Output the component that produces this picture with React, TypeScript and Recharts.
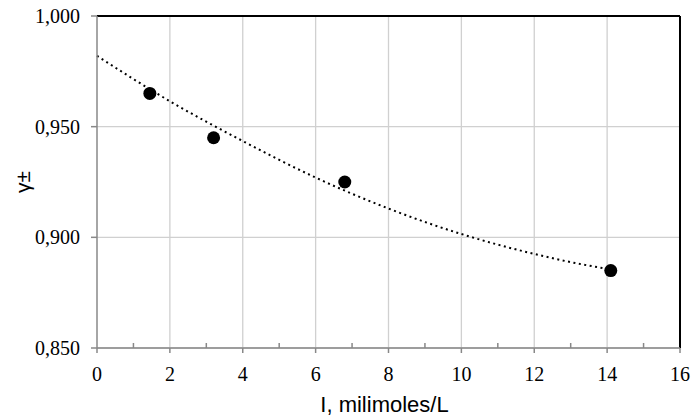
import {
  ComposedChart,
  Line,
  Scatter,
  XAxis,
  YAxis,
  CartesianGrid,
  ReferenceLine,
} from "recharts";

// measured points (I in mmol/L, mean activity coefficient)
const ionicStrength = [1.45, 3.2, 6.8, 14.1];
const gammaValues = [0.965, 0.945, 0.925, 0.885];

// dotted trend line
const trendX = [0, 2, 4, 6, 8, 10, 11, 12, 13, 14.1];
const trendY = [0.982, 0.9615, 0.9435, 0.927, 0.913, 0.9015, 0.8967, 0.8925, 0.8888, 0.8855];

const xTicks = [0, 1, 2, 3, 4, 5, 6, 7, 8, 9, 10, 11, 12, 13, 14, 15, 16];
const xGridLines = [2, 4, 6, 8, 10, 12, 14];
const yTicks = [0.85, 0.9, 0.95, 1.0];

const points = ionicStrength.map((x, i) => ({ x, y: gammaValues[i] }));
const trend = trendX.map((x, i) => ({ x, y: trendY[i] }));

const AXIS = "#888888";
const GRID = "#d0d0d0";
const SERIF = "'Liberation Serif', 'Times New Roman', serif";
const SANS = "'Liberation Sans', Arial, sans-serif";

function XTick(props: any) {
  const { x, y, payload } = props;
  const v = payload.value as number;
  const major = v % 2 === 0;
  return (
    <g>
      {major ? (
        <line x1={x} x2={x} y1={y} y2={y + 5} stroke={AXIS} strokeWidth={1.5} />
      ) : (
        <line x1={x} x2={x} y1={y - 5} y2={y} stroke={AXIS} strokeWidth={1.5} />
      )}
      {major && (
        <text x={x} y={y + 33} textAnchor="middle" fontFamily={SERIF} fontSize={20} fill="#000">
          {v}
        </text>
      )}
    </g>
  );
}

export default function App() {
  return (
    <div style={{ position: "absolute", left: 0, top: 0, background: "#fff" }}>
      <ComposedChart
        width={692}
        height={417}
        margin={{ top: 16, right: 12, bottom: 0, left: 0 }}
      >
        <CartesianGrid vertical={false} horizontal stroke={GRID} strokeWidth={1.3} />
        {xGridLines.map((g) => (
          <ReferenceLine key={g} x={g} stroke={GRID} strokeWidth={1.3} />
        ))}
        <XAxis
          type="number"
          dataKey="x"
          domain={[0, 16]}
          ticks={xTicks}
          interval={0}
          height={69}
          tickSize={0}
          tickMargin={0}
          tickLine={false}
          tick={<XTick />}
          axisLine={{ stroke: AXIS, strokeWidth: 1.5 }}
          label={{
            content: (p: any) => {
              const vb = p.viewBox;
              return (
                <text
                  x={vb.x + vb.width / 2 - 4}
                  y={412}
                  textAnchor="middle"
                  fontFamily={SANS}
                  fontSize={22}
                  fill="#000"
                >
                  I, milimoles/L
                </text>
              );
            },
          }}
        />
        <YAxis
          type="number"
          dataKey="y"
          domain={[0.85, 1.0]}
          ticks={yTicks}
          interval={0}
          width={97}
          tickSize={6}
          tickMargin={11}
          tickFormatter={(v: number) => v.toFixed(3).replace(".", ",")}
          tick={{ fontFamily: SERIF, fontSize: 20, fill: "#000" }}
          tickLine={{ stroke: AXIS, strokeWidth: 1.5 }}
          axisLine={{ stroke: AXIS, strokeWidth: 1.5 }}
          label={{
            content: (p: any) => {
              const vb = p.viewBox;
              const cx = 22;
              const cy = vb.y + vb.height / 2;
              return (
                <text
                  x={cx}
                  y={cy}
                  transform={`rotate(-90, ${cx}, ${cy})`}
                  textAnchor="middle"
                  dominantBaseline="central"
                  fontFamily={SANS}
                  fontSize={21}
                  fill="#000"
                >
                  γ±
                </text>
              );
            },
          }}
        />
        <ReferenceLine y={1.0} stroke="#000" strokeWidth={2} />
        <ReferenceLine x={16} stroke="#000" strokeWidth={2} />
        <Line
          data={trend}
          dataKey="y"
          type="monotone"
          stroke="#000"
          strokeWidth={2}
          strokeDasharray="2 3.5"
          dot={false}
          activeDot={false}
          isAnimationActive={false}
        />
        <Scatter
          data={points}
          dataKey="y"
          fill="#000"
          isAnimationActive={false}
          shape={(p: any) => <circle cx={p.cx} cy={p.cy} r={6.5} fill="#000" />}
        />
      </ComposedChart>
    </div>
  );
}
